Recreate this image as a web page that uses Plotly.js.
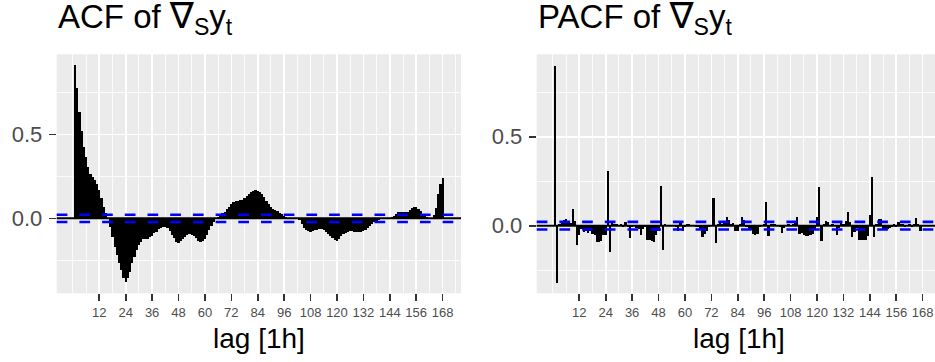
<!DOCTYPE html>
<html>
<head>
<meta charset="utf-8">
<script src="https://cdn.plot.ly/plotly-3.0.1.min.js"></script>
<style>html,body{margin:0;padding:0;background:#fff;}#chart{width:935px;height:362px;}</style>
</head>
<body>
<div id="chart"></div>
<script>
// ---- data ----
const acfValues = [
  0.913, 0.774, 0.635, 0.520, 0.427, 0.367, 0.308, 0.264, 0.248, 0.228,
  0.204, 0.169, 0.119, 0.069, 0.030, 0.000, -0.050, -0.109, -0.169, -0.218,
  -0.268, -0.310, -0.353, -0.381, -0.357, -0.317, -0.268, -0.228, -0.188, -0.159,
  -0.139, -0.125, -0.125, -0.121, -0.113, -0.103, -0.089, -0.079, -0.065, -0.056,
  -0.050, -0.050, -0.056, -0.073, -0.099, -0.119, -0.139, -0.145, -0.133, -0.121,
  -0.109, -0.097, -0.093, -0.097, -0.105, -0.119, -0.133, -0.139, -0.133, -0.121,
  -0.099, -0.069, -0.046, -0.020, -0.006, 0.010, 0.020, 0.030, 0.040, 0.054,
  0.069, 0.085, 0.095, 0.102, 0.106, 0.108, 0.111, 0.120, 0.132, 0.147,
  0.158, 0.165, 0.169, 0.165, 0.155, 0.142, 0.125, 0.105, 0.085, 0.068,
  0.058, 0.050, 0.042, 0.033, 0.025, 0.014, 0.008, 0.005, 0.003, 0.002,
  0.000, -0.003, -0.012, -0.032, -0.055, -0.070, -0.078, -0.080, -0.078, -0.072,
  -0.067, -0.063, -0.065, -0.072, -0.083, -0.094, -0.105, -0.117, -0.130, -0.135,
  -0.124, -0.108, -0.094, -0.087, -0.081, -0.078, -0.078, -0.079, -0.080, -0.081,
  -0.080, -0.077, -0.068, -0.055, -0.044, -0.032, -0.022, -0.014, -0.009, -0.006,
  -0.004, -0.002, -0.001, 0.001, 0.006, 0.015, 0.026, 0.036, 0.040, 0.038,
  0.035, 0.037, 0.048, 0.060, 0.066, 0.065, 0.058, 0.045, 0.028, 0.014,
  0.007, 0.004, 0.005, 0.020, 0.060, 0.145, 0.205, 0.238
];
const pacfValues = [
  0.900, -0.320, 0.010, 0.025, 0.030, 0.035, 0.020, 0.015, 0.093, 0.025,
  -0.110, -0.055, -0.020, -0.035, -0.030, -0.040, -0.030, -0.045, -0.050, -0.090,
  -0.090, -0.085, -0.055, -0.050, 0.307, -0.146, 0.015, 0.010, 0.008, 0.005,
  0.010, -0.010, 0.020, -0.005, -0.067, -0.010, 0.005, -0.015, -0.020, -0.050,
  -0.020, -0.010, -0.078, -0.080, -0.085, -0.094, -0.055, -0.030, 0.225, -0.135,
  0.010, 0.005, 0.005, 0.000, 0.002, -0.010, -0.030, 0.015, -0.032, -0.005,
  0.008, 0.012, 0.005, 0.002, -0.005, -0.010, -0.020, -0.066, -0.045, -0.030,
  -0.010, 0.005, 0.158, -0.095, 0.008, 0.015, 0.010, 0.020, 0.048, 0.032,
  0.010, 0.015, -0.030, -0.028, 0.010, 0.048, 0.030, -0.010, -0.020, -0.025,
  -0.047, -0.052, -0.045, -0.010, 0.005, 0.010, 0.135, -0.060, 0.010, 0.008,
  0.012, 0.005, -0.010, -0.042, -0.015, 0.005, 0.010, 0.005, 0.010, 0.015,
  0.050, -0.045, -0.040, -0.050, -0.058, -0.060, -0.055, -0.045, -0.020, 0.050,
  0.216, -0.088, 0.010, 0.025, 0.022, 0.005, 0.010, 0.005, -0.052, -0.015,
  0.022, 0.010, 0.026, 0.079, 0.022, -0.066, -0.034, -0.015, -0.078, -0.080,
  -0.078, -0.080, -0.060, 0.060, 0.272, -0.065, 0.010, 0.040, 0.035, -0.025,
  -0.022, -0.020, -0.012, -0.005, 0.008, -0.005, 0.020, 0.008, 0.010, -0.008,
  0.005, 0.010, -0.005, 0.008, 0.042, 0.010, -0.032, 0.005
];
const lags = acfValues.map((_, i) => i + 1);
const tickLags = [12, 24, 36, 48, 60, 72, 84, 96, 108, 120, 132, 144, 156, 168];
const tickLabels = tickLags.map(String);
const minorLags = [0, 6, 18, 30, 42, 54, 66, 78, 90, 102, 114, 126, 138, 150, 162, 174];
const ciBound = 0.0215;
const nabla = '<span style="font-family:DejaVu Sans;font-size:36px">\u2207</span>';
const plotTitles = ["ACF of " + nabla + "<sub>S</sub>y<sub>t</sub>", "PACF of " + nabla + "<sub>S</sub>y<sub>t</sub>"];
const xTitle = "lag [1h]";

// ---- layout helpers ----
const W = 935, H = 362;
const FONT = "Liberation Sans, Arial, Helvetica, sans-serif";
const px = v => v / W;
const py = v => 1 - v / H;

function xaxisDef(domain, range) {
  return {
    domain: domain, range: range,
    tickmode: 'array', tickvals: tickLags, ticktext: tickLabels,
    ticks: 'outside', ticklen: 7, tickwidth: 1.6, tickcolor: '#333333',
    tickfont: {family: FONT, size: 13, color: '#4D4D4D'},
    showgrid: true, gridcolor: '#FFFFFF', gridwidth: 1.6,
    minor: {tickmode: 'array', tickvals: minorLags, showgrid: true, gridcolor: '#FFFFFF', gridwidth: 0.8, ticks: ''},
    zeroline: false, showline: false, fixedrange: true
  };
}
function yaxisDef(domain, range) {
  return {
    domain: domain, range: range,
    tickmode: 'array', tickvals: [0, 0.5], ticktext: ['0.0', '0.5'],
    ticks: 'outside', ticklen: 7, tickwidth: 1.6, tickcolor: '#333333',
    tickfont: {family: FONT, size: 22, color: '#4D4D4D'},
    ticklabelstandoff: 2,
    showgrid: true, gridcolor: '#FFFFFF', gridwidth: 1.6,
    minor: {tickmode: 'array', tickvals: [-0.25, 0.25, 0.75], showgrid: true, gridcolor: '#FFFFFF', gridwidth: 0.8, ticks: ''},
    zeroline: false, showline: false, fixedrange: true
  };
}

const yDom = [py(293.3), py(54.3)];
const xa1 = xaxisDef([px(56.7), px(461.0)], [-7.35, 176.35]); xa1.anchor = 'y';
const xa2 = xaxisDef([px(536.7), 1], [-7.35, 173.6]); xa2.anchor = 'y2';
const ya1 = yaxisDef(yDom, [-0.446, 0.976]); ya1.anchor = 'x';
const ya2 = yaxisDef(yDom, [-0.380, 0.9635]); ya2.anchor = 'x2';

const traces = [
  {type: 'bar', x: lags, y: acfValues, xaxis: 'x', yaxis: 'y', width: 1,
   marker: {color: '#000000', line: {width: 0}}, hoverinfo: 'skip', showlegend: false},
  {type: 'bar', x: lags, y: pacfValues, xaxis: 'x2', yaxis: 'y2', width: 1,
   marker: {color: '#000000', line: {width: 0}}, hoverinfo: 'skip', showlegend: false}
];

function hline(xr, yr, y, color, width, dash) {
  return {type: 'line', xref: xr + ' domain', yref: yr, x0: 0, x1: 1, y0: y, y1: y,
          line: {color: color, width: width, dash: dash}, layer: 'above'};
}
const shapes = [];
[['x', 'y'], ['x2', 'y2']].forEach(([xr, yr]) => {
  shapes.push(hline(xr, yr, 0, '#000000', 2, 'solid'));
  shapes.push(hline(xr, yr, ciBound, '#0000FF', 2.6, '10.7px,12px'));
  shapes.push(hline(xr, yr, -ciBound, '#0000FF', 2.6, '10.7px,12px'));
});

const annotations = [
  {text: plotTitles[0], xref: 'paper', yref: 'paper', x: px(55.5), y: 1, xanchor: 'left', yanchor: 'top', yshift: 7,
   showarrow: false, font: {family: FONT, size: 33, color: '#000000'}},
  {text: plotTitles[1], xref: 'paper', yref: 'paper', x: px(535.5), y: 1, xanchor: 'left', yanchor: 'top', yshift: 7,
   showarrow: false, font: {family: FONT, size: 33, color: '#000000'}},
  {text: xTitle, xref: 'paper', yref: 'paper', x: px(258.9), y: 0, xanchor: 'center', yanchor: 'bottom', yshift: 6,
   showarrow: false, font: {family: FONT, size: 28, color: '#000000'}},
  {text: xTitle, xref: 'paper', yref: 'paper', x: px(738.8), y: 0, xanchor: 'center', yanchor: 'bottom', yshift: 6,
   showarrow: false, font: {family: FONT, size: 28, color: '#000000'}}
];

const layout = {
  width: W, height: H, margin: {l: 0, r: 0, t: 0, b: 0, pad: 0},
  paper_bgcolor: '#FFFFFF', plot_bgcolor: '#EBEBEB',
  bargap: 0, barmode: 'overlay', showlegend: false,
  font: {family: FONT},
  xaxis: xa1, yaxis: ya1, xaxis2: xa2, yaxis2: ya2,
  shapes: shapes, annotations: annotations
};

Plotly.newPlot('chart', traces, layout, {staticPlot: true, displayModeBar: false});
</script>
</body>
</html>
